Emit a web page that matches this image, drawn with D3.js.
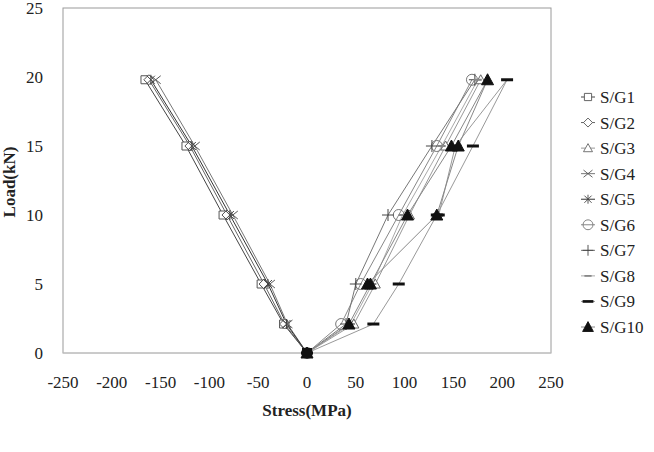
<!DOCTYPE html>
<html>
<head>
<meta charset="utf-8">
<script src="https://cdn.jsdelivr.net/npm/d3@7"></script>
<style>
  body { margin: 0; background: #fff; }
  svg text { font-family: "Liberation Serif", "DejaVu Serif", serif; fill: #222; }
  .tick-label { font-size: 17px; }
  .axis-title { font-size: 17px; font-weight: bold; }
  .legend-label { font-size: 17px; }
</style>
</head>
<body>
<svg id="chart"></svg>
<script>
/* Data */
const seriesNames = ["S/G1", "S/G2", "S/G3", "S/G4", "S/G5", "S/G6", "S/G7", "S/G8", "S/G9", "S/G10"];
const loadSteps = [0, 2.1, 5, 10, 15, 19.8];
const unloadSteps = [15, 10, 5];

/* stress (MPa) at each load step */
const sg1 = [0, -24, -47, -86, -124, -166];
const sg2 = [0, -23, -44, -82, -120, -162];
const sg3 = [0, 48, 70, 105, 142, 178];
const sg4 = [0, -20, -38, -76, -115, -155];
const sg5 = [0, -21, -40, -79, -118, -160];
const sg6 = [0, 35, 55, 94, 133, 169];
const sg7 = [0, 40, 50, 83, 128, 172];
const sg8 = [0, 45, 67, 98, 138, 175];
const sg9 = [0, 68, 94, 133, 170, 205];
const sg10 = [0, 43, 65, 103, 148, 185];
/* readings taken while unloading */
const sg9Unload = [152, 135];
const sg10Unload = [155, 133, 62];

const xTicks = [-250, -200, -150, -100, -50, 0, 50, 100, 150, 200, 250];
const yTicks = [0, 5, 10, 15, 20, 25];

/* Dimensions */
const width = 654, height = 452;
const plot = { left: 63, right: 551, top: 8, bottom: 353 };

const svg = d3.select("#chart").attr("width", width).attr("height", height);

const x = d3.scaleLinear().domain([-250, 250]).range([plot.left, plot.right]);
const y = d3.scaleLinear().domain([0, 25]).range([plot.bottom, plot.top]);

/* Plot frame */
svg.append("rect")
    .attr("x", plot.left).attr("y", plot.top)
    .attr("width", plot.right - plot.left).attr("height", plot.bottom - plot.top)
    .attr("fill", "none").attr("stroke", "#9a9a9a").attr("stroke-width", 1);
svg.append("line")
    .attr("x1", plot.left).attr("x2", plot.right)
    .attr("y1", y(0)).attr("y2", y(0))
    .attr("stroke", "#c8c8c8");

/* Tick labels */
svg.selectAll(".xt").data(xTicks).join("text")
    .attr("class", "tick-label")
    .attr("x", d => x(d)).attr("y", plot.bottom + 35)
    .attr("text-anchor", "middle")
    .text(d => d);

svg.selectAll(".yt").data(yTicks).join("text")
    .attr("class", "tick-label")
    .attr("x", 43).attr("y", d => y(d) + 6)
    .attr("text-anchor", "end")
    .text(d => d);

/* Axis titles */
svg.append("text").attr("class", "axis-title")
    .attr("x", (plot.left + plot.right) / 2).attr("y", 416)
    .attr("text-anchor", "middle").text("Stress(MPa)");
svg.append("text").attr("class", "axis-title")
    .attr("transform", `translate(15, 182) rotate(-90)`)
    .attr("text-anchor", "middle").text("Load(kN)");

/* Marker shapes */
const markers = {
  "S/G1": { d: "M-4,-4H4V4H-4Z", fill: "#fff", stroke: "#555", sw: 1 },
  "S/G2": { d: "M0,-5L5,0L0,5L-5,0Z", fill: "#fff", stroke: "#555", sw: 1 },
  "S/G3": { d: "M0,-5L5,4H-5Z", fill: "#fff", stroke: "#666", sw: 1 },
  "S/G4": { d: "M-5,-4L5,4M-5,4L5,-4", fill: "none", stroke: "#555", sw: 1 },
  "S/G5": { d: "M-4,-4L4,4M-4,4L4,-4M0,-5V5", fill: "none", stroke: "#444", sw: 1 },
  "S/G6": { d: "M-5.5,0A5.5,5.5 0 1,0 5.5,0A5.5,5.5 0 1,0 -5.5,0Z", fill: "none", stroke: "#777", sw: 1 },
  "S/G7": { d: "M-6,0H6M0,-6V6", fill: "none", stroke: "#444", sw: 1 },
  "S/G8": { d: "M-4,0H4", fill: "none", stroke: "#888", sw: 2 },
  "S/G9": { d: "M-6,0H6", fill: "none", stroke: "#111", sw: 3 },
  "S/G10": { d: "M0,-6L6,5H-6Z", fill: "#111", stroke: "#111", sw: 1 }
};

const lineColors = {
  "S/G1": "#444", "S/G2": "#666", "S/G3": "#999", "S/G4": "#777", "S/G5": "#333",
  "S/G6": "#888", "S/G7": "#777", "S/G8": "#aaa", "S/G9": "#999", "S/G10": "#888"
};

const stressSets = [sg1, sg2, sg3, sg4, sg5, sg6, sg7, sg8, sg9, sg10];
const series = seriesNames.map((name, i) => {
  const pts = loadSteps.map((l, j) => ({ s: stressSets[i][j], l: l }));
  if (name === "S/G9") sg9Unload.forEach((s, j) => pts.push({ s: s, l: unloadSteps[j] }));
  if (name === "S/G10") sg10Unload.forEach((s, j) => pts.push({ s: s, l: unloadSteps[j] }));
  return { name: name, points: pts };
});

const line = d3.line().x(d => x(d.s)).y(d => y(d.l));

const g = svg.append("g");

/* Lines first, then markers on top */
g.selectAll(".series-line").data(series).join("path")
    .attr("class", "series-line")
    .attr("d", d => line(d.points))
    .attr("fill", "none")
    .attr("stroke", d => lineColors[d.name])
    .attr("stroke-width", 1);

series.forEach(sr => {
  const m = markers[sr.name];
  g.selectAll(null).data(sr.points).join("path")
      .attr("transform", d => `translate(${x(d.s)},${y(d.l)})`)
      .attr("d", m.d)
      .attr("fill", m.fill)
      .attr("stroke", m.stroke)
      .attr("stroke-width", m.sw);
});

/* dark block at the origin where all markers overlap */
g.append("rect")
    .attr("x", x(0) - 5).attr("y", y(0) - 5)
    .attr("width", 10).attr("height", 10)
    .attr("fill", "#111");

/* Legend */
const legend = svg.append("g");
const legendY = d3.scalePoint().domain(seriesNames).range([97, 327]);

const item = legend.selectAll(".legend-item").data(seriesNames).join("g")
    .attr("transform", d => `translate(588, ${legendY(d)})`);

item.append("line")
    .attr("x1", -7).attr("x2", 7).attr("y1", 0).attr("y2", 0)
    .attr("stroke", d => lineColors[d]).attr("stroke-width", 1);
item.append("path")
    .attr("d", d => markers[d].d)
    .attr("fill", d => markers[d].fill)
    .attr("stroke", d => markers[d].stroke)
    .attr("stroke-width", d => markers[d].sw)
    .attr("transform", "scale(0.9)");
item.append("text")
    .attr("class", "legend-label")
    .attr("x", 12).attr("y", 6)
    .text(d => d);
</script>
</body>
</html>
